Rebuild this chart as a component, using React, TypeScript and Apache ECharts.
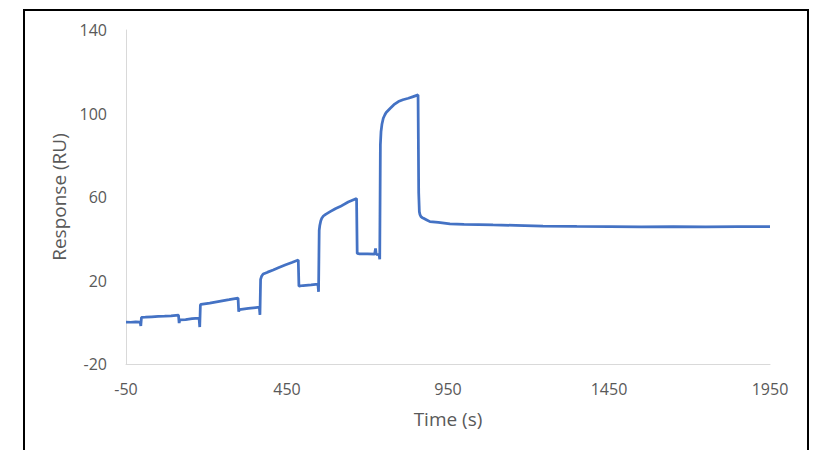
import React, { useEffect, useRef } from "react";
import * as echarts from "echarts";

// Sensorgram: time (s) and response (RU)
const times: number[] = [
  -50, -35, -20, -6, -4, -2, 10, 30, 50, 70, 90, 113, 115, 117, 135, 155, 177, 179,
  181, 183, 210, 240, 270, 298, 300, 302, 330, 364, 366, 368, 371, 376, 390, 407,
  425, 444, 465, 485, 487, 500, 525, 546, 548, 550, 552, 555, 558, 563, 570, 584, 600, 615,
  640, 666, 668, 675, 700, 722, 725, 727, 736, 738, 740, 742, 745, 749, 754, 758, 770, 782,
  796, 810, 827, 842, 857, 859, 861, 863, 866, 870, 874, 884, 894, 920, 956, 1000, 1090, 1160,
  1245, 1350, 1453, 1550, 1650, 1750, 1850, 1950,
];
const response: number[] = [
  0.1, 0.0, 0.2, 0.1, -1.8, 2.3, 2.4, 2.6, 2.8, 2.9, 3.1, 3.4, -0.4, 1.1, 1.3, 1.7, 2.0, -2.3,
  8.3, 8.6, 9.2, 10.0, 10.8, 11.6, 5.1, 6.1, 6.6, 7.2, 3.5, 20.5, 22.0, 23.1, 24.0, 25.0,
  26.2, 27.4, 28.6, 29.8, 17.3, 17.6, 17.9, 18.3, 14.6, 44.0, 46.5, 48.6, 49.8, 50.9, 51.7, 53.0, 54.4, 55.4,
  57.6, 59.3, 33.0, 32.8, 32.7, 32.6, 35.4, 32.5, 32.4, 30.2, 85.0, 91.3, 95.0, 97.7, 99.4, 100.5, 102.4, 104.2,
  105.7, 106.6, 107.3, 108.1, 108.9, 62.0, 53.0, 51.5, 50.6, 50.1, 49.8, 49.0, 48.2, 47.8, 47.1, 46.9, 46.6, 46.4,
  46.1, 45.9, 45.8, 45.7, 45.8, 45.7, 45.8, 45.8,
];

const xTickLabels: number[] = [-50, 450, 950, 1450, 1950];
const yTickLabels: number[] = [-20, 20, 60, 100, 140];

const FONT = "'Open Sans', sans-serif";
const TEXT = "#595959";
const AXIS = "#d9d9d9";

export default function App() {
  const ref = useRef<HTMLDivElement>(null);
  useEffect(() => {
    if (!ref.current) return;
    const chart = echarts.init(ref.current, null, { renderer: "svg" });
    const data = times.map((t, i) => [t, response[i]]);
    chart.setOption({
      animation: false,
      backgroundColor: "#ffffff",
      grid: { left: 126, right: 43, top: 30, bottom: 86, containLabel: false },
      graphic: [
        {
          type: "rect",
          shape: { x: 24, y: 10, width: 784, height: 470 },
          style: { fill: "none", stroke: "#000000", lineWidth: 2 },
          silent: true,
        },
      ],
      xAxis: {
        type: "value",
        min: -50,
        max: 1950,
        name: "Time (s)",
        nameLocation: "middle",
        nameGap: 45,
        nameTextStyle: { fontFamily: FONT, fontSize: 19, color: TEXT },
        axisLine: { show: true, onZero: false, lineStyle: { color: AXIS, width: 1 } },
        axisTick: { show: false },
        splitLine: { show: false },
        axisLabel: {
          customValues: xTickLabels,
          formatter: (v: number) => String(v),
          margin: 17,
          fontFamily: FONT,
          fontSize: 16,
          color: TEXT,
        },
      },
      yAxis: {
        type: "value",
        min: -20,
        max: 140,
        name: "Response (RU)",
        nameLocation: "middle",
        nameGap: 52,
        nameTextStyle: { fontFamily: FONT, fontSize: 19, color: TEXT },
        axisLine: { show: true, onZero: false, lineStyle: { color: AXIS, width: 1 } },
        axisTick: { show: false },
        splitLine: { show: false },
        axisLabel: {
          customValues: yTickLabels,
          formatter: (v: number) => String(v),
          margin: 19,
          fontFamily: FONT,
          fontSize: 16,
          color: TEXT,
        },
      },
      series: [
        {
          type: "line",
          data,
          showSymbol: false,
          symbol: "none",
          lineStyle: { color: "#4472C4", width: 2.75 },
          smooth: false,
        },
      ],
    });
    return () => chart.dispose();
  }, []);
  return (
    <div
      ref={ref}
      style={{ position: "fixed", left: 0, top: 0, width: 813, height: 450 }}
    />
  );
}
